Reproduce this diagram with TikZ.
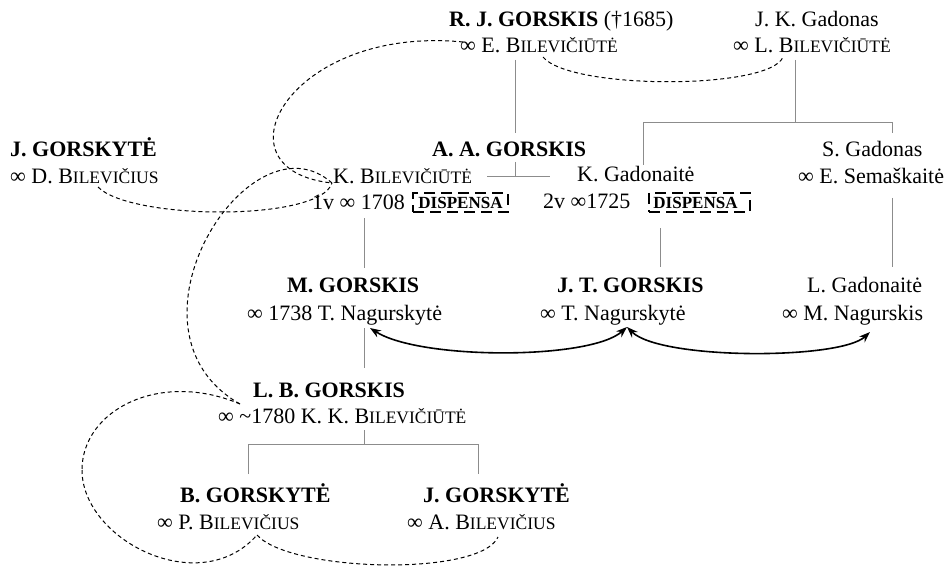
\documentclass[tikz,border=0pt]{standalone}
\usepackage{fontspec}
\setmainfont{Liberation Serif}
\usetikzlibrary{arrows.meta}
\newcommand{\mysc}[2]{#1{\fontsize{17.5}{20}\selectfont #2}}
\definecolor{linegray}{RGB}{140,140,140}
\begin{document}
\begin{tikzpicture}[x=1pt,y=-1pt,
  txt/.style={anchor=base west,inner sep=0pt,font=\fontsize{22}{26}\selectfont},
  tree/.style={draw=linegray,line width=1pt},
  link/.style={draw=black,line width=1pt,dash pattern=on 4pt off 3pt},
  rel/.style={draw=black,line width=1.6pt,{Stealth[length=11pt,width=8pt]}-{Stealth[length=11pt,width=8pt]}},
  dispbox/.style={draw=black,line width=2.4pt,dash pattern=on 11pt off 6pt,minimum height=19pt,inner sep=0pt,font=\fontsize{17}{18}\selectfont\bfseries}]
\useasboundingbox (0,0) rectangle (951,567);
% ---- row A
\node[txt] (rj1) at (449,27) {\textbf{R. J. GORSKIS} (†1685)};
\node[txt] (rj2) at (460,53) {∞ E. \mysc{B}{ILEVIČIŪTĖ}};
\node[txt] (jk1) at (755,27) {J. K. Gadonas};
\node[txt] (jk2) at (733,53) {∞ L. \mysc{B}{ILEVIČIŪTĖ}};
% ---- row B
\node[txt] (jg1) at (10,157) {\textbf{J. GORSKYTĖ}};
\node[txt] (jg2) at (10,184) {∞ D. \mysc{B}{ILEVIČIUS}};
\node[txt] (aa) at (432,157) {\textbf{A. A. GORSKIS}};
\node[txt] (kb) at (333,183) {K. \mysc{B}{ILEVIČIŪTĖ}};
\node[txt] (kb2) at (312,209) {1v ∞ 1708};
\node[dispbox,minimum width=95pt] (disp1) at (460.5,202.5) {DISPENSA};
\node[txt] (kg) at (577,182) {K. Gadonaitė};
\node[txt] (kg2) at (543,208) {2v ∞1725};
\node[dispbox,minimum width=101pt] (disp2) at (699.5,202.5) {DISPENSA\hspace*{8pt}};
\node[txt] (sg) at (822,157) {S. Gadonas};
\node[txt] (sg2) at (798,183) {∞ E. Semaškaitė};
% ---- row C
\node[txt] (mg) at (287,292) {\textbf{M. GORSKIS}};
\node[txt] (mg2) at (247,320) {∞ 1738 T. Nagurskytė};
\node[txt] (jt) at (557,292) {\textbf{J. T. GORSKIS}};
\node[txt] (jt2) at (540,320) {∞ T. Nagurskytė};
\node[txt] (lg) at (807,292) {L. Gadonaitė};
\node[txt] (lg2) at (782,320) {∞ M. Nagurskis};
% ---- row D
\node[txt] (lb) at (253,397) {\textbf{L. B. GORSKIS}};
\node[txt] (lb2) at (218,423) {∞ \textasciitilde1780 K. K. \mysc{B}{ILEVIČIŪTĖ}};
% ---- row E
\node[txt] (bg) at (180,502) {\textbf{B. GORSKYTĖ}};
\node[txt] (bg2) at (157,529) {∞ P. \mysc{B}{ILEVIČIUS}};
\node[txt] (jg3) at (423,502) {\textbf{J. GORSKYTĖ}};
\node[txt] (jg4) at (407,529) {∞ A. \mysc{B}{ILEVIČIUS}};
% ---- tree coordinates
\coordinate (rjD) at (515,60);
\coordinate (aaU) at (515,133);
\coordinate (aaD) at (515,162);
\coordinate (mA) at (515,177);
\coordinate (mL) at (487,177);
\coordinate (mR) at (550,177);
\coordinate (kbD) at (364,218);
\coordinate (mgU) at (364,268);
\coordinate (mgD) at (364,328);
\coordinate (lbU) at (364,368);
\coordinate (lbD) at (364,430);
\coordinate (barM) at (364,444);
\coordinate (barL) at (248,444);
\coordinate (barR) at (478,444);
\coordinate (bgU) at (248,474);
\coordinate (jg3U) at (478,474);
\coordinate (jkD) at (795,60);
\coordinate (jbM) at (795,123);
\coordinate (jbL) at (643,123);
\coordinate (jbR) at (892,123);
\coordinate (kgU) at (643,165);
\coordinate (sgU) at (892,133);
\coordinate (kgD) at (660,228);
\coordinate (jtU) at (660,267);
\coordinate (sgD) at (892,198);
\coordinate (lgU) at (892,267);
% ---- tree lines
\draw[tree] (rjD) -- (aaU);
\draw[tree] (aaD) -- (mA);
\draw[tree] (mL) -- (mR);
\draw[tree] (kbD) -- (mgU);
\draw[tree] (mgD) -- (lbU);
\draw[tree] (lbD) -- (barM);
\draw[tree] (bgU) -- (barL) -- (barR) -- (jg3U);
\draw[tree] (jkD) -- (jbM);
\draw[tree] (kgU) -- (jbL) -- (jbR) -- (sgU);
\draw[tree] (kgD) -- (jtU);
\draw[tree] (sgD) -- (lgU);
% ---- relation arrows
\coordinate (jtA) at (627,327);
\coordinate (mgA) at (370,328);
\coordinate (lgA) at (870,332);
\draw[rel] (jtA) .. controls (590,360) and (420,360) .. (mgA);
\draw[rel] (jtA) .. controls (660,360) and (840,360) .. (lgA);
% ---- dashed kinship links
\coordinate (rjL) at (463,42);
\coordinate (kbL) at (332,183);
\coordinate (jgB) at (98,187);
\coordinate (lbL) at (240,404);
\coordinate (loopW) at (82,470);
\coordinate (bgB) at (257,535);
\coordinate (jg4B) at (498,537);
\coordinate (rjB) at (543,57);
\coordinate (jkB) at (783,57);
\draw[link] (rjL) .. controls (290,25) and (210,170) .. (kbL);
\draw[link] (jgB) .. controls (130,220) and (320,222) .. (kbL);
\draw[link] (kbL) .. controls (250,110) and (110,330) .. (lbL);
\draw[link] (lbL) .. controls (160,370) and (82,410) .. (loopW);
\draw[link] (loopW) .. controls (82,540) and (200,600) .. (bgB);
\draw[link] (bgB) .. controls (290,572) and (480,577) .. (jg4B);
\draw[link] (rjB) .. controls (570,90) and (770,90) .. (jkB);
\end{tikzpicture}
\end{document}
